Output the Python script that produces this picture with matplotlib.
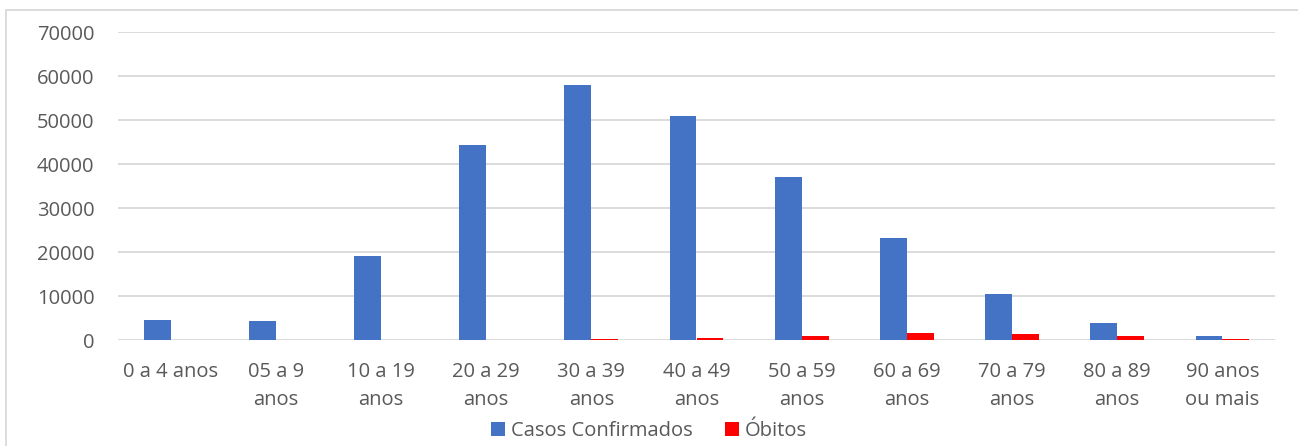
import matplotlib.pyplot as plt
import numpy as np
from matplotlib.patches import Rectangle

categorias = ['0 a 4 anos', '05 a 9\nanos', '10 a 19\nanos', '20 a 29\nanos', '30 a 39\nanos',
              '40 a 49\nanos', '50 a 59\nanos', '60 a 69\nanos', '70 a 79\nanos',
              '80 a 89\nanos', '90 anos\nou mais']
casos = [4500, 4400, 19200, 44300, 58000, 50900, 37000, 23200, 10400, 3900, 800]
obitos = [30, 20, 40, 80, 250, 500, 1000, 1600, 1450, 900, 300]

plt.rcParams['font.family'] = ['Open Sans', 'DejaVu Sans']
cor_texto = '#595959'

fig = plt.figure(figsize=(12.98, 4.46), dpi=100)
ax = fig.add_axes([118 / 1298, 106 / 446, 1157 / 1298, 308 / 446])

x = np.arange(len(categorias))
w = 0.255
ax.bar(x - w / 2, casos, w, color='#4472C4', label='Casos Confirmados', zorder=3)
ax.bar(x + w / 2, obitos, w, color='#FF0000', label='Óbitos', zorder=3)

ax.set_xlim(-0.5, len(categorias) - 0.5)
ax.set_ylim(0, 70000)
ax.set_yticks(range(0, 70001, 10000))
ax.grid(axis='y', color='#d9d9d9', linewidth=1.3, zorder=0)
for s in ax.spines.values():
    s.set_visible(False)
ax.set_xticks(x)
ax.set_xticklabels(categorias, linespacing=1.5)
ax.tick_params(axis='both', length=0, labelsize=14.5, colors=cor_texto)
ax.tick_params(axis='x', pad=16)
ax.tick_params(axis='y', pad=17)

# borda do gráfico
fig.patches.append(Rectangle((6 / 1298, -0.1), 1.2, (446 - 10) / 446 + 0.1,
                             transform=fig.transFigure, fill=False,
                             edgecolor='#d9d9d9', linewidth=1.3))

fig.legend(loc='lower center', bbox_to_anchor=(0.5, -0.03), ncol=2, frameon=False,
           fontsize=14.5, labelcolor=cor_texto, handlelength=0.7, handleheight=0.7,
           handletextpad=0.3, columnspacing=1.6)

fig.savefig('out.png', dpi=100)
